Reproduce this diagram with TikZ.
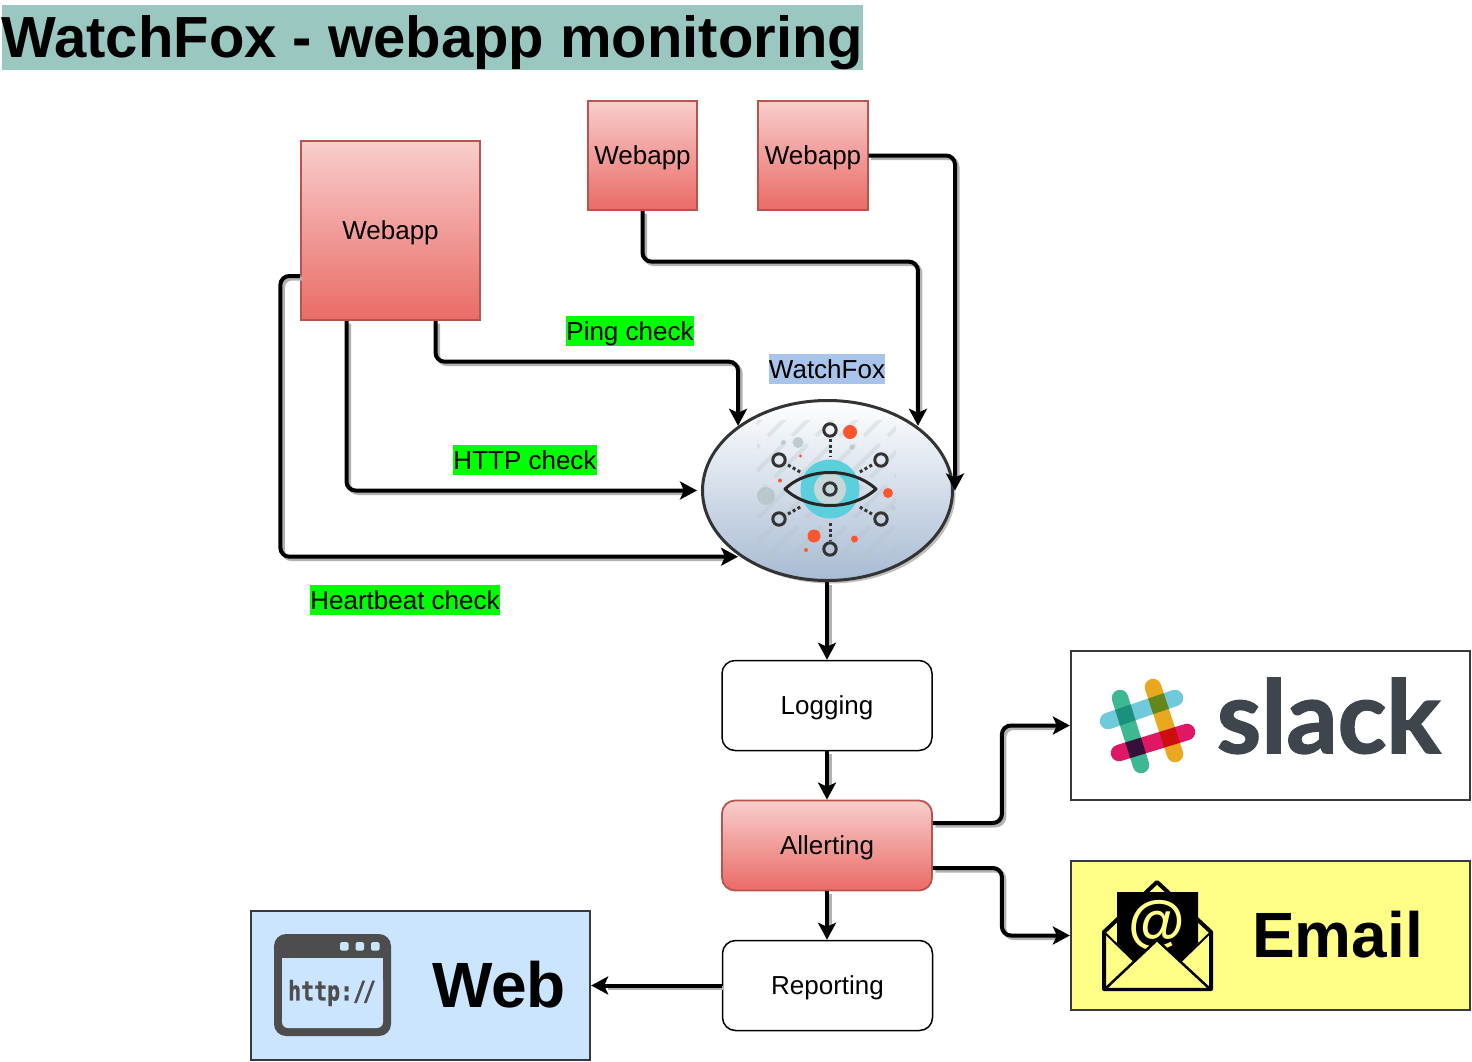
\documentclass[tikz,border=0pt]{standalone}
\usepackage{fontspec}
\setmainfont{Liberation Sans}
\newfontfamily\slackfont{Lato}[BoldFeatures={FakeBold=1.6}]
\newfontfamily\httpfont{DejaVu Sans Mono}[BoldFeatures={FakeBold=1.2}]
\usetikzlibrary{arrows.meta,shapes.geometric}
\definecolor{redtop}{HTML}{F8CECC}
\definecolor{redbot}{HTML}{EA6B66}
\definecolor{redline}{HTML}{B85450}
\definecolor{boxline}{HTML}{36393D}
\definecolor{spot}{HTML}{FB5630}
\definecolor{mist}{HTML}{B4C4C6}
\definecolor{icondark}{HTML}{4D4D4D}
\definecolor{titlebg}{HTML}{9AC7BF}
\definecolor{lime}{HTML}{00FF00}
\definecolor{watchbg}{HTML}{A9C4EB}
\definecolor{foxbot}{HTML}{A8BBD4}
\definecolor{emailbg}{HTML}{FFFF88}
\definecolor{webbg}{HTML}{CCE5FF}
\definecolor{slackgrey}{HTML}{3E454C}
\definecolor{eyeteal}{HTML}{5BCFDB}
\tikzset{
  txt/.style={font=\fontsize{26}{31}\selectfont,text height=21.5pt,text depth=3.5pt,inner ysep=2.5pt,inner xsep=0pt},
  redgrad/.style={draw=redline,line width=1.8pt,top color=redtop,bottom color=redbot},
  flow/.style={line width=4pt,rounded corners=9pt,-{Stealth[length=17pt,width=18pt,inset=4pt]},
    preaction={draw=black!30,-,shorten >=14pt,line width=4pt,transform canvas={shift={(2.5pt,-2.5pt)}}}},
  ring/.style={draw=black!80,line width=3pt},
  dots/.style={draw=black!80,line width=3pt,dash pattern=on 3pt off 2.5pt},
  bar/.style={line width=16.5pt,line cap=round},
  outbox/.style={draw=boxline,line width=1.8pt,minimum height=149.5pt,inner sep=0pt},
}
\begin{document}
\begin{tikzpicture}[x=1pt,y=-1pt]
  \useasboundingbox (0,0) rectangle (1472,1062);

  \node [fill=titlebg,font=\fontsize{58}{66}\selectfont\bfseries,
    text height=48.5pt,text depth=7.5pt,inner sep=0pt,minimum height=65pt] (title) at (432.5,37.5) {WatchFox - webapp monitoring};

  % monitored apps
  \begin{scope}[every node/.style={txt,redgrad,inner sep=0pt}]
    \node [minimum size=179.5pt] (bigapp) at (390.5,230.5) {Webapp};
    \node [minimum size=109.5pt] (appb) at (642.5,155.5) {Webapp};
    \node [minimum size=109.5pt] (appc) at (813,155.5) {Webapp};
  \end{scope}

  % check labels
  \begin{scope}[every node/.style={txt,fill=lime}]
    \node (ping) at (630,331) {Ping check};
    \node (http) at (525,460) {HTTP check};
    \node (beat) at (405,600) {Heartbeat check};
  \end{scope}
  \node [txt,fill=watchbg] (watch) at (827,369) {WatchFox};

  \node [ellipse,draw=black!80,line width=3pt,minimum width=250pt,minimum height=180pt,inner sep=0pt,
    preaction={fill=black!25,transform canvas={shift={(3pt,-3pt)}}},
    top color=white,bottom color=foxbot] (fox) at (827.5,490.5) {};

  % eye icon
  \begin{scope}
    \clip (757,420) rectangle (896,560);
    \foreach \k in {-120,-96,...,160}
      \draw [mist,opacity=.3,line width=4pt,dash pattern=on 46pt off 12pt] (700+\k,600) -- (900+\k,400);
  \end{scope}
  \fill [mist,opacity=.8] (798,442.5) circle (5.5pt) (783.5,442.5) circle (2.5pt) (852,447) circle (2.5pt) (766,496) circle (9pt);
  \fill [mist,opacity=.5] (893,508) circle (2.5pt);
  \fill [spot] (850,432) circle (7pt) (888,493) circle (5pt) (814,536) circle (6.5pt) (854.5,539) circle (3.5pt)
    (806,550) circle (2pt) (780,480.5) circle (2pt) (800.5,456) circle (1.7pt);
  \fill [eyeteal] (830,489) circle (29.5pt);
  \fill [black!15!white,opacity=.85] (830,489) circle (16pt);
  \draw [black!85,line width=3pt,line join=round] (785,489) .. controls (808,467) and (852,467) .. (876,489)
    .. controls (852,511) and (808,511) .. cycle;
  \foreach \px/\py in {830/430,779/460,881/460,779/519,881/519,830/549,830/489}
    \draw [ring] (\px,\py) circle (6.2pt);
  \draw [dots] (830,439) -- (830,456) (830,523) -- (830,540);
  \draw [dots] (788,465) -- (802,473) (872,465) -- (858,473) (788,514) -- (802,506) (872,514) -- (858,506);

  % pipeline
  \begin{scope}[every node/.style={txt,minimum width=210pt,minimum height=90pt,rounded corners=13pt}]
    \node [draw=black,line width=1.5pt] (logging) at (827,705.5) {Logging};
    \node [redgrad] (allert) at (827,845.5) {Allerting};
    \node [draw=black,line width=1.5pt] (report) at (827.5,985.5) {Reporting};
  \end{scope}

  % outputs
  \node [outbox,fill=white,minimum width=399.5pt] (slack) at (1270.5,725.5) {};
  \node [outbox,fill=emailbg,minimum width=399.5pt] (email) at (1270.5,935.5) {};
  \node [outbox,fill=webbg,minimum width=339.5pt] (web) at (420.5,985.5) {};

  % slack logo
  \begin{scope}[blend group=multiply]
    \draw [bar,draw={rgb,255:red,62;green,184;blue,144}] (1120,698) -- (1141,765);
    \draw [bar,draw={rgb,255:red,112;green,202;blue,219}] (1108,721) -- (1175,698);
    \draw [bar,draw={rgb,255:red,233;green,168;blue,32}] (1153,687) -- (1175,754);
    \draw [bar,draw={rgb,255:red,224;green,23;blue,101}] (1119,753) -- (1187,732);
  \end{scope}
  \node [font=\fontsize{101}{110}\selectfont\slackfont\bfseries,text=slackgrey,inner sep=0pt,anchor=base] (slacktxt) at (1328.5,753) {slack};

  % email icon
  \draw [black,line width=4pt,line join=round,fill=emailbg]
    (1104,932) -- (1157,882) -- (1211,932) -- (1211,989) -- (1104,989) -- cycle;
  \fill [black] (1117,892) -- (1198,892) -- (1198,943) -- (1182,960) -- (1133,960) -- (1117,943) -- cycle;
  \draw [black,line width=2pt] (1104,932) -- (1135,962) (1211,932) -- (1180,962);
  \node [font=\fontsize{58}{60}\selectfont\bfseries,text=emailbg,inner sep=0pt] (at) at (1157,925) {@};
  \draw [black,line width=2.5pt,line join=round,fill=emailbg] (1105,989) -- (1157,940) -- (1210,989) -- cycle;
  \node [font=\fontsize{64}{70}\selectfont\bfseries,inner sep=0pt] (emailtxt) at (1337.5,934.5) {Email};

  % web icon
  \fill [icondark,rounded corners=12pt] (274,934) rectangle (391,1036);
  \fill [webbg,rounded corners=6pt] (282,975) -- (282,1028) -- (383,1028) -- (383,975) -- cycle;
  \fill [webbg] (282,958) rectangle (383,985);
  \fill [webbg,rounded corners=1.5pt] (340,942) rectangle (348.5,950.5) (355.5,942) rectangle (364,950.5) (371,942) rectangle (379.5,950.5);
  \node [font=\fontsize{27}{30}\selectfont\httpfont\bfseries,text=icondark,inner sep=0pt,xscale=.8,transform shape] (httptxt) at (332,993) {http:/\kern-4pt/};
  \node [font=\fontsize{64}{70}\selectfont\bfseries,inner sep=0pt] (webtxt) at (499,984.5) {Web};

  % connectors
  \draw [flow] ([xshift=45pt]bigapp.south) -- ++(0,40.5) -| (fox.north west);
  \draw [flow,shorten >=4pt] ([xshift=-44pt]bigapp.south) |- (fox.west);
  \draw [flow] ([yshift=-45.5pt]bigapp.west) -- ++(-19.5,0) |- ([yshift=-1.5pt]fox.south west);
  \draw [flow] (appb.south) -- ++(0,50.5) -| ([xshift=1pt]fox.north east);
  \draw [flow] (appc.east) -| ([xshift=1pt]fox.east);
  \draw [flow] (logging.north |- fox.south) -- (logging.north);
  \draw [flow] (logging.south) -- (allert.north);
  \draw [flow] (allert.south) -- (allert.south |- report.north);
  \draw [flow] (report.west) -- (web.east);
  \draw [flow] ([yshift=22.5pt]allert.east) -- ++(69,0) |- (slack.west);
  \draw [flow] ([yshift=-22.5pt]allert.east) -- ++(69,0) |- (email.west);
\end{tikzpicture}
\end{document}
